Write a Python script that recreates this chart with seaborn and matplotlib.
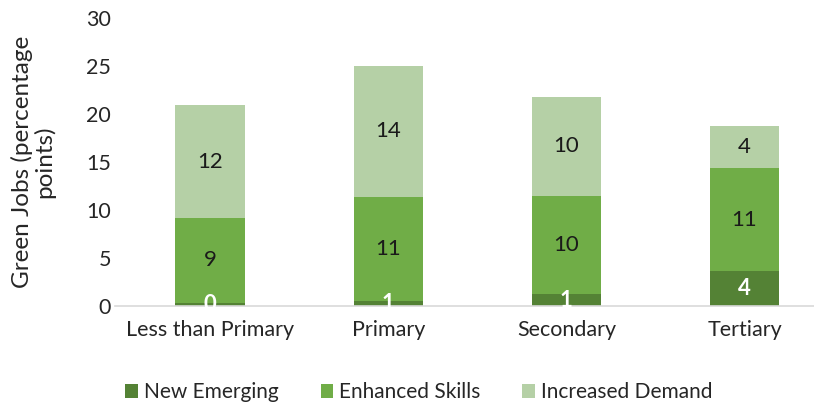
import numpy as np
import pandas as pd
import matplotlib
matplotlib.use("Agg")
import matplotlib.pyplot as plt
import seaborn as sns

# Datos
niveles = ["Less than Primary", "Primary", "Secondary", "Tertiary"]
new_emerging = [0.3, 0.55, 1.2, 3.6]
enhanced_skills = [8.9, 10.85, 10.25, 10.75]
increased_demand = [11.7, 13.6, 10.35, 4.4]

series = ["New Emerging", "Enhanced Skills", "Increased Demand"]
colores = ["#548235", "#70AD47", "#B5D0A6"]

df = pd.DataFrame({
    "Nivel": niveles,
    "New Emerging": new_emerging,
    "Enhanced Skills": enhanced_skills,
    "Increased Demand": increased_demand,
})

sns.set_theme(style="white")
plt.rcParams["font.family"] = ["Lato", "DejaVu Sans"]

fig = plt.figure(figsize=(8.14, 4.07), dpi=100)
ax = fig.add_axes([115 / 814, 1 - 306 / 407, 699 / 814, 288 / 407])

base = np.zeros(len(niveles))
for serie, color in zip(series, colores):
    sns.barplot(x="Nivel", y=serie, data=df, color=color, bottom=base,
                width=0.39, ax=ax, label=serie, errorbar=None,
                saturation=1, linewidth=0)
    base = base + df[serie].values

for cont, serie in zip(ax.containers, series):
    etiquetas = [f"{v:.0f}" for v in df[serie]]
    if serie == "New Emerging":
        ax.bar_label(cont, labels=etiquetas, label_type="center", color="white",
                     fontsize=16, fontweight="bold")
    else:
        ax.bar_label(cont, labels=etiquetas, label_type="center", color="#1a1a1a",
                     fontsize=16)

ax.set_ylim(0, 30)
ax.set_yticks(range(0, 31, 5))
ax.set_xlim(-0.534, 3.39)
for s in ["top", "right", "left"]:
    ax.spines[s].set_visible(False)
ax.spines["bottom"].set_color("#D9D9D9")
ax.spines["bottom"].set_linewidth(1.2)
ax.tick_params(axis="both", length=0, labelsize=15.5, colors="#262626")
ax.tick_params(axis="x", pad=10)
ax.tick_params(axis="y", pad=3)
ax.set_xlabel("")
ax.set_ylabel("Green Jobs (percentage\npoints)", fontsize=17.5, color="#262626",
              linespacing=1.0)
ax.yaxis.set_label_coords(-0.086, 0.5)

ax.legend(loc="upper center", bbox_to_anchor=(0.435, -0.2), ncol=3, frameon=False,
          fontsize=15, handlelength=0.6, handleheight=0.6, handletextpad=0.3,
          columnspacing=2.0, labelcolor="#262626")

fig.savefig("out.png", dpi=100)
